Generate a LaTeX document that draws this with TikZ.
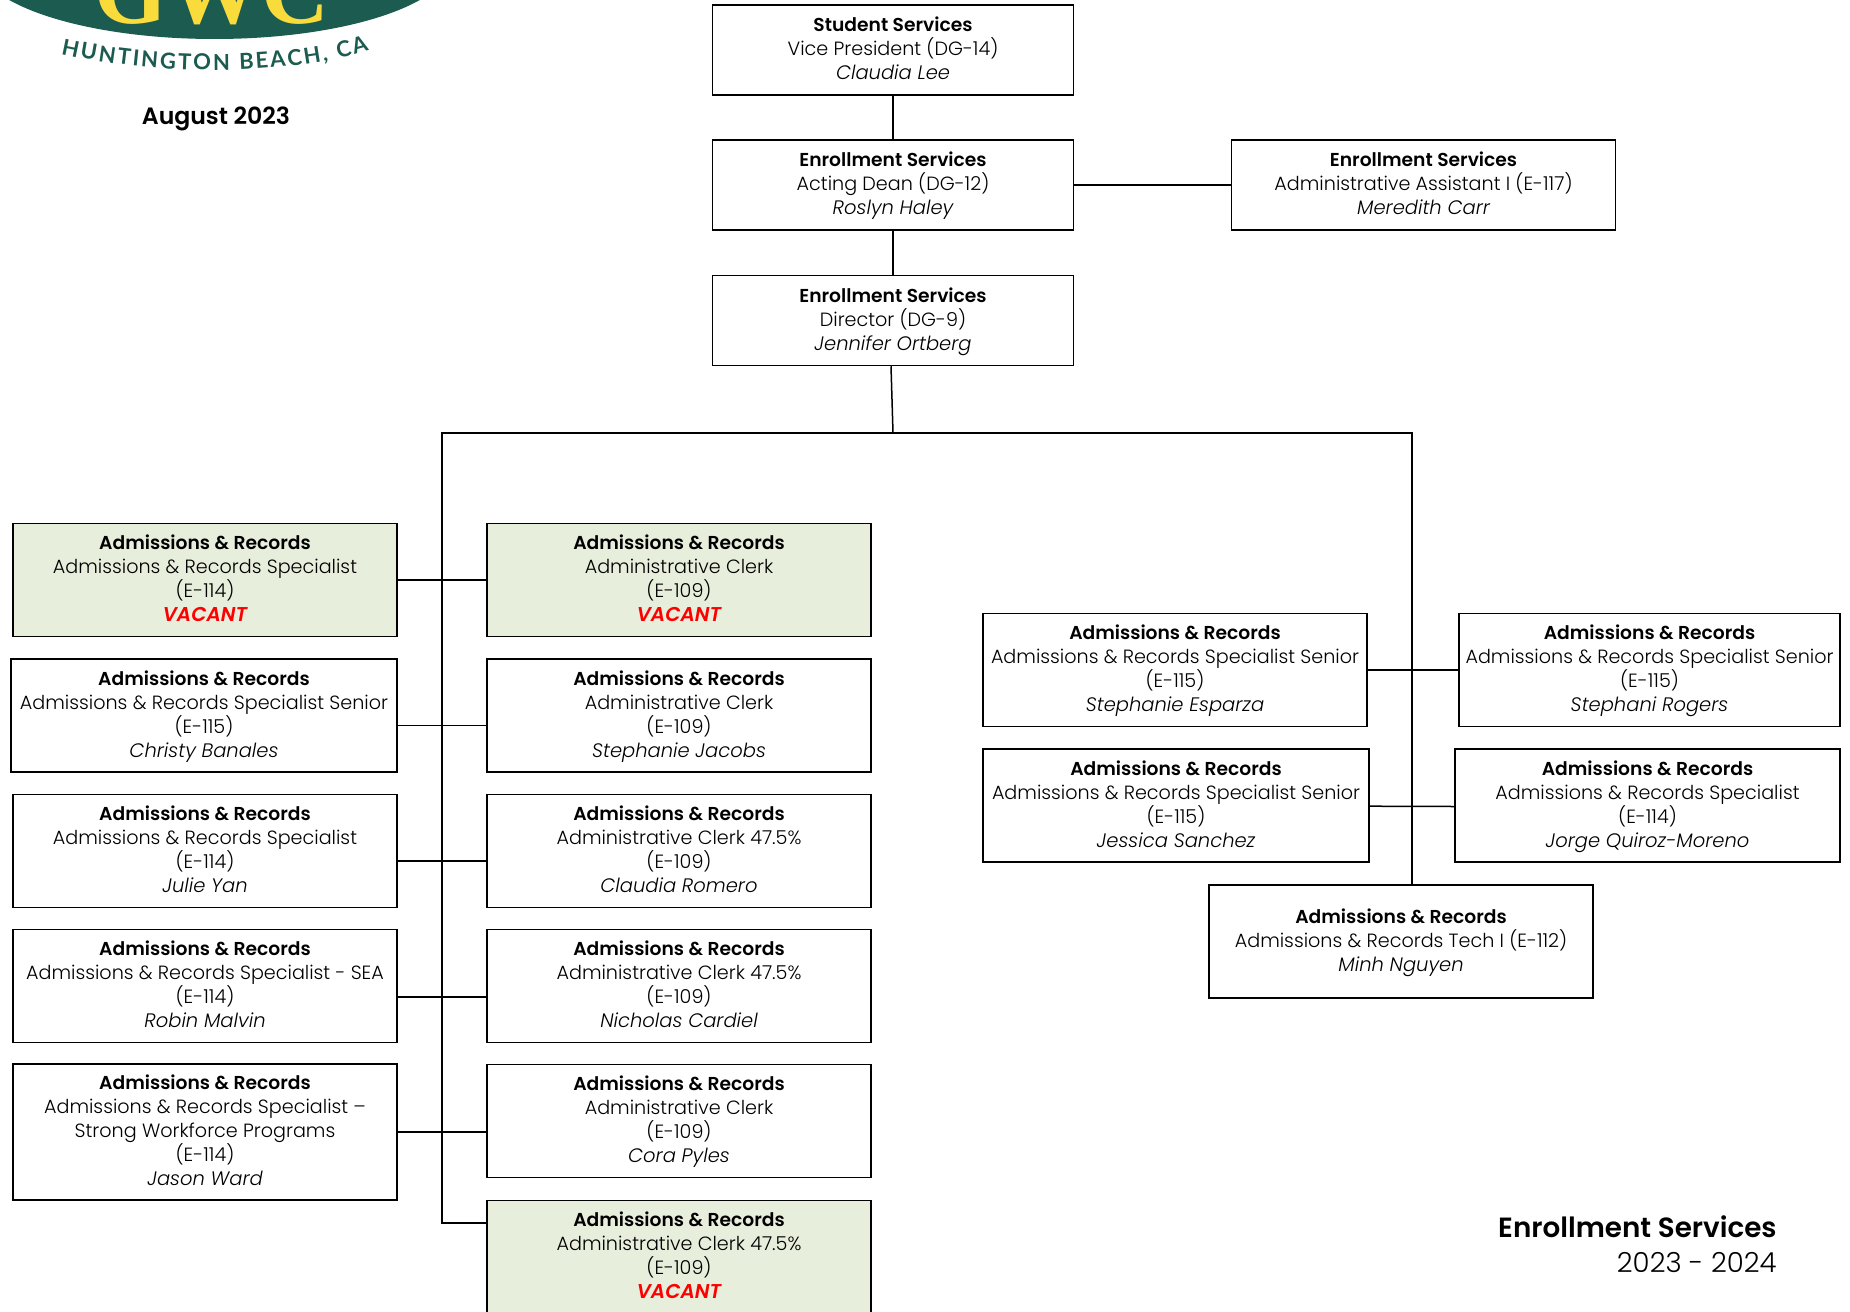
\documentclass[tikz,border=0pt]{standalone}
\usepackage{fontspec}
\setmainfont{Poppins}[UprightFont=* Light, ItalicFont=* Light Italic, BoldFont=* SemiBold, BoldItalicFont=* SemiBold Italic]
\newfontfamily\gwcfont{Liberation Serif}
\newfontfamily\logofont{Lato}
\usetikzlibrary{decorations.text}
\definecolor{gwcgreen}{HTML}{1B5B50}
\definecolor{gwcyellow}{HTML}{F9DC3C}
\definecolor{vacantfill}{HTML}{E8EEDC}
\newcommand{\dept}[1]{\rule{0pt}{9.1pt}{\fontsize{9.35}{12}\selectfont\bfseries #1}}
\newcommand{\person}[1]{{\fontsize{9.75}{12}\selectfont\itshape #1}}
\newcommand{\adm}{\dept{Admissions \& Records}}
\newcommand{\vacant}{{\fontsize{10}{12}\selectfont\color{red}\bfseries\itshape VACANT}}
\tikzset{
	rolebox/.style={draw, line width=0.75pt, align=center, inner sep=0pt, minimum width=192pt, minimum height=56.5pt, font=\fontsize{9.58}{12}\selectfont, execute at end node=\strut},
	vacantbox/.style={rolebox, fill=vacantfill},
	topbox/.style={rolebox, minimum width=180.5pt, minimum height=45pt},
	link/.style={line width=0.75pt}
}
\begin{document}
\begin{tikzpicture}[x=0.5pt, y=-0.5pt]
	\useasboundingbox (0, 0) rectangle (1850, 1311);

	% logo
	\begin{scope}
		\clip (0, 0) rectangle (1850, 1311);
		\fill[gwcgreen] (214.5, -40) ellipse (238pt*0.5 and 79pt*0.5);
		\node[text=gwcyellow, font=\gwcfont\bfseries\fontsize{47}{48}\selectfont, anchor=base, inner sep=0pt] (gwc) at (212, 24) {GWC};
	\end{scope}
	\path[decorate, decoration={text along path, text align={fit to path}, text={|\logofont\bfseries\fontsize{11}{12}\selectfont\color{gwcgreen}|HUNTINGTON BEACH, CA}}]
		(61, 54) .. controls (150, 74) and (280, 78) .. (369, 50);
	\node[font=\bfseries\fontsize{11.8}{14}\selectfont] (date) at (216, 119) {August 2023};

	% top of the chart
	\node[topbox] (vp) at (893, 50) {\dept{Student Services}\\Vice President (DG-14)\\\person{Claudia Lee}};
	\node[topbox] (dean) at (893, 185) {\dept{Enrollment Services}\\Acting Dean (DG-12)\\\person{Roslyn Haley}};
	\node[topbox] (dir) at (893, 320.5) {\dept{Enrollment Services}\\Director (DG-9)\\\person{Jennifer Ortberg}};
	\node[topbox, minimum width=192pt] (asst) at (1423.5, 185) {\dept{Enrollment Services}\\Administrative Assistant I (E-117)\\\person{Meredith Carr}};

	% left column
	\node[vacantbox] (a1) at (205, 580) {\adm\\Admissions \& Records Specialist\\(E-114)\\\vacant};
	\node[rolebox, minimum width=193pt] (a2) at (204, 715.5) {\adm\\Admissions \& Records Specialist Senior\\(E-115)\\\person{Christy Banales}};
	\node[rolebox] (a3) at (205, 851) {\adm\\Admissions \& Records Specialist\\(E-114)\\\person{Julie Yan}};
	\node[rolebox] (a4) at (205, 986) {\adm\\Admissions \& Records Specialist - SEA\\(E-114)\\\person{Robin Malvin}};
	\node[rolebox, minimum height=68pt] (a5) at (205, 1132) {\adm\\Admissions \& Records Specialist --\\Strong Workforce Programs\\(E-114)\\\person{Jason Ward}};

	% middle column
	\node[vacantbox] (m1) at (679, 580) {\adm\\Administrative Clerk\\(E-109)\\\vacant};
	\node[rolebox] (m2) at (679, 715.5) {\adm\\Administrative Clerk\\(E-109)\\\person{Stephanie Jacobs}};
	\node[rolebox] (m3) at (679, 851) {\adm\\Administrative Clerk 47.5\%\\(E-109)\\\person{Claudia Romero}};
	\node[rolebox] (m4) at (679, 986) {\adm\\Administrative Clerk 47.5\%\\(E-109)\\\person{Nicholas Cardiel}};
	\node[rolebox] (m5) at (679, 1121) {\adm\\Administrative Clerk\\(E-109)\\\person{Cora Pyles}};
	\node[vacantbox] (m6) at (679, 1257) {\adm\\Administrative Clerk 47.5\%\\(E-109)\\\vacant};

	% right group
	\node[rolebox] (r1) at (1175, 670) {\adm\\Admissions \& Records Specialist Senior\\(E-115)\\\person{Stephanie Esparza}};
	\node[rolebox, minimum width=193pt] (r2) at (1176, 805.5) {\adm\\Admissions \& Records Specialist Senior\\(E-115)\\\person{Jessica Sanchez}};
	\node[rolebox, minimum width=190.5pt] (s1) at (1649.5, 670) {\adm\\Admissions \& Records Specialist Senior\\(E-115)\\\person{Stephani Rogers}};
	\node[rolebox, minimum width=192.5pt] (s2) at (1647.5, 805.5) {\adm\\Admissions \& Records Specialist\\(E-114)\\\person{Jorge Quiroz-Moreno}};
	\node[rolebox] (tech) at (1401, 941.5) {\adm\\Admissions \& Records Tech I (E-112)\\\person{Minh Nguyen}};

	% title
	\node[anchor=east, inner sep=0pt, font=\bfseries\fontsize{13.9}{16}\selectfont] (title) at (1777, 1227) {Enrollment Services};
	\node[anchor=east, inner sep=0pt, font=\fontsize{13.8}{16}\selectfont] (years) at (1777, 1262) {2023 - 2024};

	% connectors
	\coordinate (hub) at (893, 433);
	\coordinate (busl) at (442, 433);
	\coordinate (busr) at (1412, 433);
	\draw[link] (vp) -- (dean);
	\draw[link] (dean) -- (dir);
	\draw[link] (dean) -- (asst);
	\draw[link] ([xshift=-1pt]dir.south) -- (hub);
	\draw[link] (busr |- tech.north) -- (busr) -- (busl) |- ([yshift=17pt]m6.west);
	\draw[link] (a1) -- (m1);
	\draw[link] ([yshift=-5pt]a2.east) -- ([yshift=-5pt]m2.west);
	\draw[link] ([yshift=-5pt]a3.east) -- ([yshift=-5pt]m3.west);
	\draw[link] ([yshift=-5.5pt]a4.east) -- ([yshift=-5.5pt]m4.west);
	\draw[link] (a5.east) -- ([yshift=-5.5pt]m5.west);
	\draw[link] (r1) -- (s1);
	\draw[link] (r2) -- ([yshift=-0.5pt]s2.west);
\end{tikzpicture}
\end{document}
